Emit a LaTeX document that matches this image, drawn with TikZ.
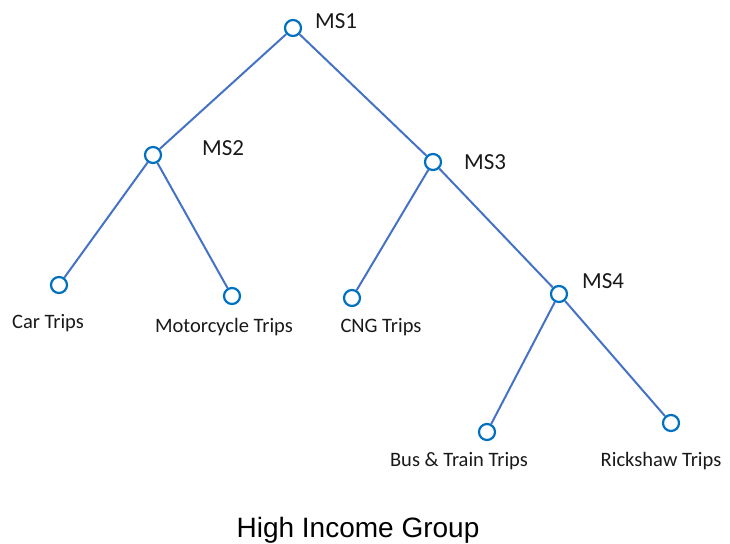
\documentclass[tikz,border=0pt]{standalone}
\usepackage{fontspec}
\setmainfont{Carlito}
\newfontfamily\titlefont{Liberation Sans}
\definecolor{edgeblue}{RGB}{68,114,196}
\definecolor{ringblue}{RGB}{0,112,192}
\begin{document}
\begin{tikzpicture}[x=1pt,y=-1pt,
  leaf/.style={circle,draw=ringblue,line width=2.2pt,fill=white,minimum size=16pt,inner sep=0pt},
  branch/.style={draw=edgeblue,line width=2pt},
  lbl/.style={font=\fontsize{20.5}{24}\selectfont,text=black!90,inner sep=0pt},
  mslbl/.style={font=\fontsize{23}{27}\selectfont,text=black!90,inner sep=0pt,anchor=west}]
\useasboundingbox (0,0) rectangle (730,543);
% tree nodes
\node[leaf] (ms1) at (293,28) {};
\node[leaf] (ms2) at (153,155) {};
\node[leaf] (ms3) at (433,162) {};
\node[leaf] (ms4) at (559,294) {};
\node[leaf] (car) at (59,285) {};
\node[leaf] (moto) at (232,296) {};
\node[leaf] (cng) at (352,298) {};
\node[leaf] (bus) at (487,432) {};
\node[leaf] (rick) at (671,423) {};
% branches
\draw[branch] (ms1) -- (ms2);
\draw[branch] (ms1) -- (ms3);
\draw[branch] (ms2) -- (car);
\draw[branch] (ms2) -- (moto);
\draw[branch] (ms3) -- (cng);
\draw[branch] (ms3) -- (ms4);
\draw[branch] (ms4) -- (bus);
\draw[branch] (ms4) -- (rick);
% labels
\node[mslbl] (t1) at (315,21) {MS1};
\node[mslbl] (t2) at (202,148) {MS2};
\node[mslbl] (t3) at (464,162) {MS3};
\node[mslbl] (t4) at (582,281) {MS4};
\node[lbl] (tcar) at (48,323) {Car Trips};
\node[lbl] (tmoto) at (224,327) {Motorcycle Trips};
\node[lbl] (tcng) at (381,327) {CNG Trips};
\node[lbl] (tbus) at (459,461) {Bus \& Train Trips};
\node[lbl] (trick) at (661,461) {Rickshaw Trips};
\node[font=\titlefont\fontsize{28}{32}\selectfont,inner sep=0pt] (title) at (358,530) {High Income Group};
\end{tikzpicture}
\end{document}
